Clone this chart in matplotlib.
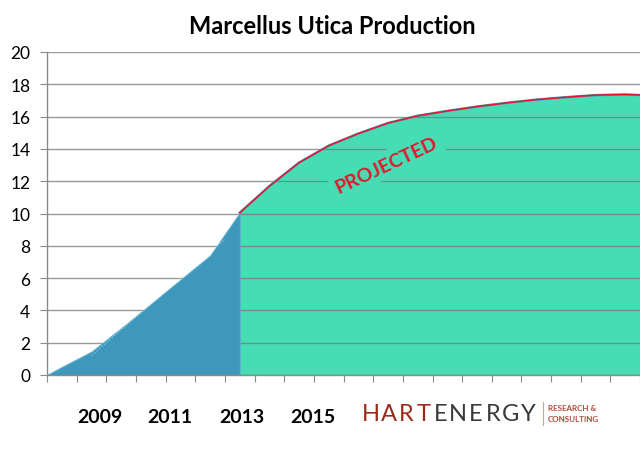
import matplotlib
matplotlib.use("Agg")
import matplotlib.pyplot as plt
import numpy as np

plt.rcParams['font.family'] = ['Lato', 'DejaVu Sans']

# ---- data (category index: half-year steps) ----
hist_x = [-0.5, 0, 1, 2, 3, 4, 5, 6]
hist_y = [0, 0.5, 1.45, 2.9, 4.4, 5.9, 7.4, 10.05]
proj_x = [6, 7, 8, 9, 10, 11, 12, 13, 14, 15, 16, 17, 18, 19, 20]
proj_y = [10.05, 11.7, 13.15, 14.2, 14.95, 15.6, 16.05, 16.35, 16.62, 16.85,
          17.05, 17.2, 17.33, 17.37, 17.3]
trend_x = [1.0, 5.5]
trend_y = [1.2, 8.4]
yticks = list(range(0, 21, 2))
year_labels = ['2009', '2011', '2013', '2015']
year_pos = [1.28, 3.64, 6.06, 8.45]
title = 'Marcellus Utica Production'

BLUE = '#3d98bc'
GREEN = '#46ddb5'
RED = '#e3182b'

fig = plt.figure(figsize=(6.4, 4.56), dpi=100)
W, H = 640, 456
ax = fig.add_axes([47 / W, (H - 376) / H, (640 - 47) / W, (376 - 53) / H])

ax.fill_between(proj_x, proj_y, 0, color=GREEN, lw=0, zorder=1)
ax.plot(proj_x, proj_y, color='#4a9ec0', lw=1.8, zorder=2.5)
ax.plot(proj_x, proj_y, color=RED, lw=1.1, zorder=2.6)
ax.fill_between(hist_x, hist_y, 0, color=BLUE, edgecolor='#5aaed0', lw=0.8, zorder=2)
ax.plot(trend_x, trend_y, color='white', lw=0.6, ls=(0, (2, 2)), alpha=0.5, zorder=2.2)

ax.set_xlim(-0.505, 19.46)
ax.set_ylim(0, 20)
ax.set_yticks(yticks)
ax.set_yticklabels([str(v) for v in yticks], fontsize=12.5)
ax.set_xticks(np.arange(-0.5, 20, 1))
ax.set_xticklabels([])
ax.set_xticks(year_pos, year_labels, minor=True)
ax.tick_params(axis='x', which='minor', length=0, pad=24, labelsize=14)
for lab in ax.get_xticklabels(minor=True):
    lab.set_fontweight('bold')
ax.tick_params(axis='x', which='major', length=5, color='#8a8a8a', direction='out')
ax.tick_params(axis='y', length=5, color='#8a8a8a', pad=7)

ax.set_axisbelow('line')
ax.yaxis.grid(True, color='#777777', lw=1.0, alpha=0.75)
for s in ['top', 'right']:
    ax.spines[s].set_visible(False)
for s in ['left', 'bottom']:
    ax.spines[s].set_color('#8a8a8a')
    ax.spines[s].set_linewidth(1.0)

ax.text(10.95, 13.05, 'PROJECTED', color=RED, fontsize=14, fontweight='bold',
        rotation=25, ha='center', va='center', zorder=3,
        bbox=dict(boxstyle='square,pad=0.25', fc=GREEN, ec='none'))

fig.text(332 / W, 1 - 27 / H, title, ha='center', va='center',
         fontsize=17, fontweight='bold')

# logo text
logo = 'HARTENERGY'
x0, x1 = 371, 528
for i, ch in enumerate(logo):
    xx = x0 + (x1 - x0) * i / (len(logo) - 1)
    fig.text(xx / W, 1 - 415 / H, ch, ha='center', va='center', fontsize=17,
             fontweight='normal', color='#9a2b1c' if i < 4 else '#3a3a3a')
fig.add_artist(plt.Line2D([543 / W, 543 / W], [1 - 403 / H, 1 - 426 / H],
                          color='#d9a08a', lw=0.8))
fig.text(548 / W, 1 - 409 / H, 'RESEARCH &', fontsize=5.8, color='#b04a3a',
         ha='left', va='center', fontweight='bold')
fig.text(548 / W, 1 - 420 / H, 'CONSULTING', fontsize=5.8, color='#b04a3a',
         ha='left', va='center', fontweight='bold')

fig.savefig('out.png', dpi=100)
